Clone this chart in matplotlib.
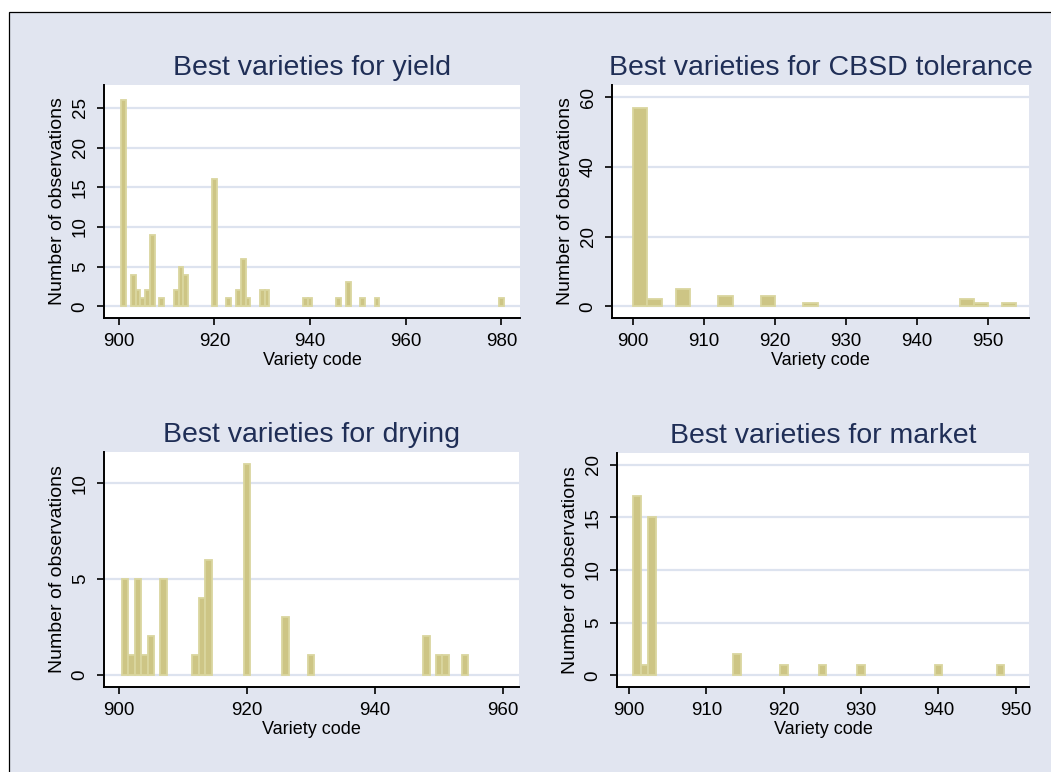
import matplotlib
matplotlib.use("Agg")
import matplotlib.pyplot as plt
from matplotlib.patches import Rectangle

plt.rcParams['font.family'] = ['Liberation Sans', 'DejaVu Sans']

# values (variety code -> number of observations)
yield_codes = [901, 903, 904, 905, 906, 907, 909, 912, 913, 914, 920, 923, 925, 926, 927,
               930, 931, 939, 940, 946, 948, 951, 954, 980]
yield_counts = [26, 4, 2, 1, 2, 9, 1, 2, 5, 4, 16, 1, 2, 6, 1,
                2, 2, 1, 1, 1, 3, 1, 1, 1]

cbsd_codes = [901, 903, 907, 913, 919, 925, 947, 949, 953]
cbsd_counts = [57, 2, 5, 3, 3, 1, 2, 1, 1]

drying_codes = [901, 902, 903, 904, 905, 907, 912, 913, 914, 920, 926, 930, 948, 950, 951, 954]
drying_counts = [5, 1, 5, 1, 2, 5, 1, 4, 6, 11, 3, 1, 2, 1, 1, 1]

market_codes = [901, 902, 903, 914, 920, 925, 930, 940, 948]
market_counts = [17, 1, 15, 2, 1, 1, 1, 1, 1]

titles = ["Best varieties for yield", "Best varieties for CBSD tolerance",
          "Best varieties for drying", "Best varieties for market"]

BG = '#e1e5f0'
GRID = '#dde3ef'
BAR = '#cdc585'
BAR_EDGE = '#dad69f'
TITLE_C = '#1f2e56'

W, H = 1051, 772
fig = plt.figure(figsize=(W / 100, H / 100), dpi=100, facecolor='white')

# outer graph region with a black frame (clipped at right/bottom like the original)
fig.patches.append(Rectangle((9 / W, -0.1), 1.2, 1 - 12 / H + 0.1, transform=fig.transFigure,
                             facecolor=BG, edgecolor='black', linewidth=0.9, zorder=-10))


def px_axes(x0, y0, x1, y1):
    return fig.add_axes([x0 / W, 1 - y1 / H, (x1 - x0) / W, (y1 - y0) / H])


panels = [
    (px_axes(104, 85, 520, 318), yield_codes, yield_counts, 1.0, (896.9, 983.9), (-1.48, 27.9),
     range(900, 981, 20), range(0, 26, 5)),
    (px_axes(612, 85, 1029, 318), cbsd_codes, cbsd_counts, 2.0, (897.0, 955.8), (-3.36, 63.5),
     range(900, 951, 10), range(0, 61, 20)),
    (px_axes(104, 452, 519, 687), drying_codes, drying_counts, 1.0, (897.7, 962.45), (-0.65, 11.64),
     range(900, 961, 20), range(0, 11, 5)),
    (px_axes(617, 453, 1029, 687), market_codes, market_counts, 1.0, (898.45, 951.7), (-1.11, 21.1),
     range(900, 951, 10), range(0, 21, 5)),
]

for (ax, codes, counts, width, xl, yl, xt, yt), title in zip(panels, titles):
    ax.set_facecolor('white')
    ax.bar(codes, counts, width=width, color=BAR, edgecolor=BAR_EDGE, linewidth=1.3, zorder=3)
    ax.set_xlim(*xl)
    ax.set_ylim(*yl)
    ax.set_xticks(list(xt))
    ax.set_yticks(list(yt))
    ax.yaxis.grid(True, color=GRID, linewidth=1.6, zorder=0)
    ax.set_axisbelow(True)
    for s in ['top', 'right']:
        ax.spines[s].set_visible(False)
    for s in ['left', 'bottom']:
        ax.spines[s].set_linewidth(1.4)
        ax.spines[s].set_color('black')
    ax.tick_params(axis='both', direction='out', length=5, width=1.2, colors='black', labelsize=13.5)
    ax.tick_params(axis='x', pad=5.5)
    ax.tick_params(axis='y', pad=6)
    for lab in ax.get_yticklabels():
        lab.set_rotation(90)
        lab.set_va('center')
    ax.set_xlabel("Variety code", fontsize=13, labelpad=2)
    ax.set_ylabel("Number of observations", fontsize=14, labelpad=4)
    ax.set_title(title, fontsize=20.5, color=TITLE_C, pad=7)

fig.savefig("out.png", dpi=100, facecolor=fig.get_facecolor())
